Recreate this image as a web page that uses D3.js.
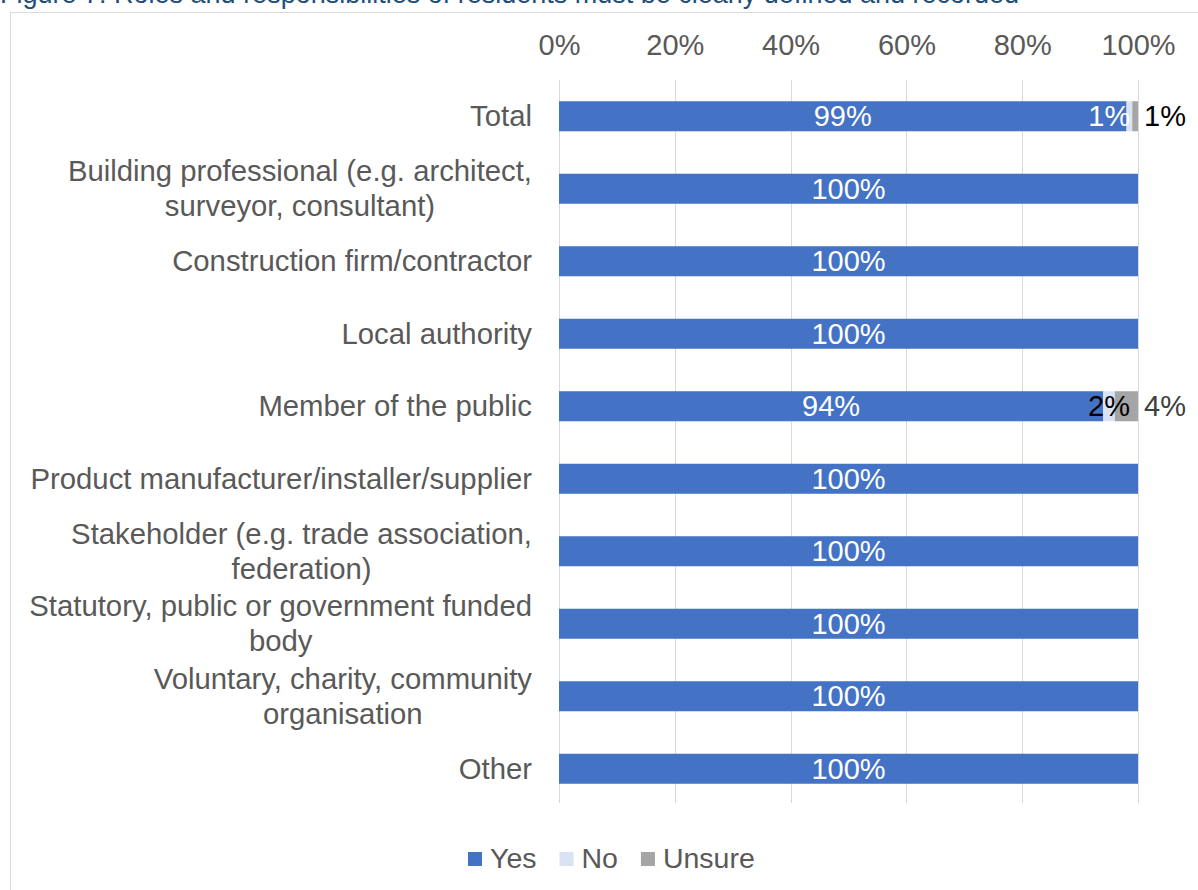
<!DOCTYPE html>
<html>
<head>
<meta charset="utf-8">
<script src="https://cdn.jsdelivr.net/npm/d3@7"></script>
<style>
  html, body { margin: 0; padding: 0; background: #fff; }
  svg { display: block; font-family: "Liberation Sans", Arial, sans-serif; }
</style>
</head>
<body>
<svg id="chart" width="1198" height="890"></svg>
<script>
// Response shares by respondent type (percent)
const categories = [
  "Total",
  "Building professional (e.g. architect, surveyor, consultant)",
  "Construction firm/contractor",
  "Local authority",
  "Member of the public",
  "Product manufacturer/installer/supplier",
  "Stakeholder (e.g. trade association, federation)",
  "Statutory, public or government funded body",
  "Voluntary, charity, community organisation",
  "Other"
];
const yesValues    = [99, 100, 100, 100, 94, 100, 100, 100, 100, 100];
const noValues     = [1,    0,   0,   0,  2,   0,   0,   0,   0,   0];
const unsureValues = [1,    0,   0,   0,  4,   0,   0,   0,   0,   0];
const seriesNames  = ["Yes", "No", "Unsure"];
const tickValues   = [0, 20, 40, 60, 80, 100];
const titleText = "Figure 7: Roles and responsibilities of residents must be clearly defined and recorded";

const colors = { Yes: "#4472C4", No: "#DAE3F3", Unsure: "#A5A5A5" };
const textGrey = "#595959";
const fontSize = 29;
const catFontSize = 29.3;

const rows = categories.map((c, i) => ({
  category: c, Yes: yesValues[i], No: noValues[i], Unsure: unsureValues[i]
}));

const svg = d3.select("#chart");

// Title (runs off the top edge)
svg.append("text")
  .attr("x", 0).attr("y", 3)
  .attr("fill", "#1F4E79")
  .attr("font-size", 27)
  .text(titleText);

// Chart area border
svg.append("path")
  .attr("d", "M10.5,890 V12.5 H1198")
  .attr("fill", "none")
  .attr("stroke", "#D9D9D9")
  .attr("stroke-width", 1);

// Scales: 100% stacked bars
const x = d3.scaleLinear().domain([0, 1]).range([559, 1138]);
const y = d3.scaleBand().domain(categories).range([80, 805])
  .paddingInner(0.586).paddingOuter(0.293);

const stack = d3.stack().keys(seriesNames).offset(d3.stackOffsetExpand);
const stacked = stack(rows);

// Gridlines
svg.append("g").selectAll("line")
  .data(tickValues)
  .join("line")
  .attr("x1", d => Math.round(x(d / 100)) + 0.5)
  .attr("x2", d => Math.round(x(d / 100)) + 0.5)
  .attr("y1", 80).attr("y2", 803)
  .attr("stroke", "#D9D9D9").attr("stroke-width", 1);

// Top axis labels
const axis = svg.append("g")
  .attr("transform", "translate(0,55)")
  .call(d3.axisTop(x).tickValues(tickValues.map(d => d / 100))
    .tickFormat(d3.format(".0%")).tickSize(0).tickPadding(0));
axis.select(".domain").remove();
axis.selectAll("text")
  .attr("y", 0).attr("dy", "0")
  .attr("fill", textGrey)
  .attr("font-size", fontSize)
  .attr("font-family", "Liberation Sans, Arial, sans-serif");

// Bars
const barG = svg.append("g");
stacked.forEach(series => {
  barG.append("g").attr("fill", colors[series.key])
    .selectAll("rect")
    .data(series.filter(d => d[1] - d[0] > 0))
    .join("rect")
    .attr("x", d => x(d[0]))
    .attr("width", d => x(d[1]) - x(d[0]))
    .attr("y", d => y(d.data.category))
    .attr("height", y.bandwidth());
});

// Category labels, word-wrapped and centred line-to-line, right edge at 532
const labelRight = x(0) - 27;
const wrapWidth = 515;
const labelG = svg.append("g")
  .attr("font-size", catFontSize).attr("fill", textGrey);
const measurer = svg.append("text").attr("font-size", catFontSize).attr("visibility", "hidden");
function measure(s) { measurer.text(s); return measurer.node().getComputedTextLength(); }

categories.forEach(cat => {
  const words = cat.split(" ");
  const lines = [];
  let cur = "";
  words.forEach(w => {
    const test = cur ? cur + " " + w : w;
    if (cur && measure(test) > wrapWidth) { lines.push(cur); cur = w; }
    else cur = test;
  });
  lines.push(cur);
  const widths = lines.map(measure);
  const maxW = d3.max(widths);
  const cx = labelRight - maxW / 2;
  const cy = y(cat) + y.bandwidth() / 2;
  const lh = 35;
  const t = labelG.append("text").attr("text-anchor", "middle");
  lines.forEach((ln, i) => {
    t.append("tspan")
      .attr("x", cx)
      .attr("y", cy + 10 + (i - (lines.length - 1) / 2) * lh)
      .text(ln);
  });
});
measurer.remove();

// Value labels
const valG = svg.append("g").attr("font-size", fontSize);
const pct = v => v + "%";

// Yes: white, centred on segment
valG.selectAll("text.yes")
  .data(stacked[0])
  .join("text")
  .attr("class", "yes")
  .attr("x", d => (x(d[0]) + x(d[1])) / 2)
  .attr("y", d => y(d.data.category) + y.bandwidth() / 2 + 10)
  .attr("text-anchor", "middle")
  .attr("fill", "#fff")
  .text(d => pct(d.data.Yes));

// No: only where non-zero
const noStyle = {
  "Total": { anchor: "end", fill: "#fff", at: "end" },
  "Member of the public": { anchor: "middle", fill: "#000", at: "mid" }
};
valG.selectAll("text.no")
  .data(stacked[1].filter(d => d.data.No > 0))
  .join("text")
  .attr("class", "no")
  .attr("x", d => {
    const s = noStyle[d.data.category] || { at: "mid" };
    return s.at === "end" ? x(d[1]) - 2 : (x(d[0]) + x(d[1])) / 2;
  })
  .attr("y", d => y(d.data.category) + y.bandwidth() / 2 + 10)
  .attr("text-anchor", d => (noStyle[d.data.category] || {}).anchor || "middle")
  .attr("fill", d => (noStyle[d.data.category] || {}).fill || "#000")
  .text(d => pct(d.data.No));

// Unsure: outside the bar end
const unsureFill = { "Total": "#000", "Member of the public": "#404040" };
valG.selectAll("text.unsure")
  .data(stacked[2].filter(d => d.data.Unsure > 0))
  .join("text")
  .attr("class", "unsure")
  .attr("x", d => x(d[1]) + 6)
  .attr("y", d => y(d.data.category) + y.bandwidth() / 2 + 10)
  .attr("text-anchor", "start")
  .attr("fill", d => unsureFill[d.data.category] || "#404040")
  .text(d => pct(d.data.Unsure));

// Legend
const legend = svg.append("g").attr("font-size", 28.5).attr("fill", textGrey);
let lx = 468;
seriesNames.forEach(name => {
  legend.append("rect")
    .attr("x", lx).attr("y", 852).attr("width", 14).attr("height", 14)
    .attr("fill", colors[name]);
  const t = legend.append("text").attr("x", lx + 22).attr("y", 868).text(name);
  lx += 22 + t.node().getComputedTextLength() + 23;
});
</script>
</body>
</html>
